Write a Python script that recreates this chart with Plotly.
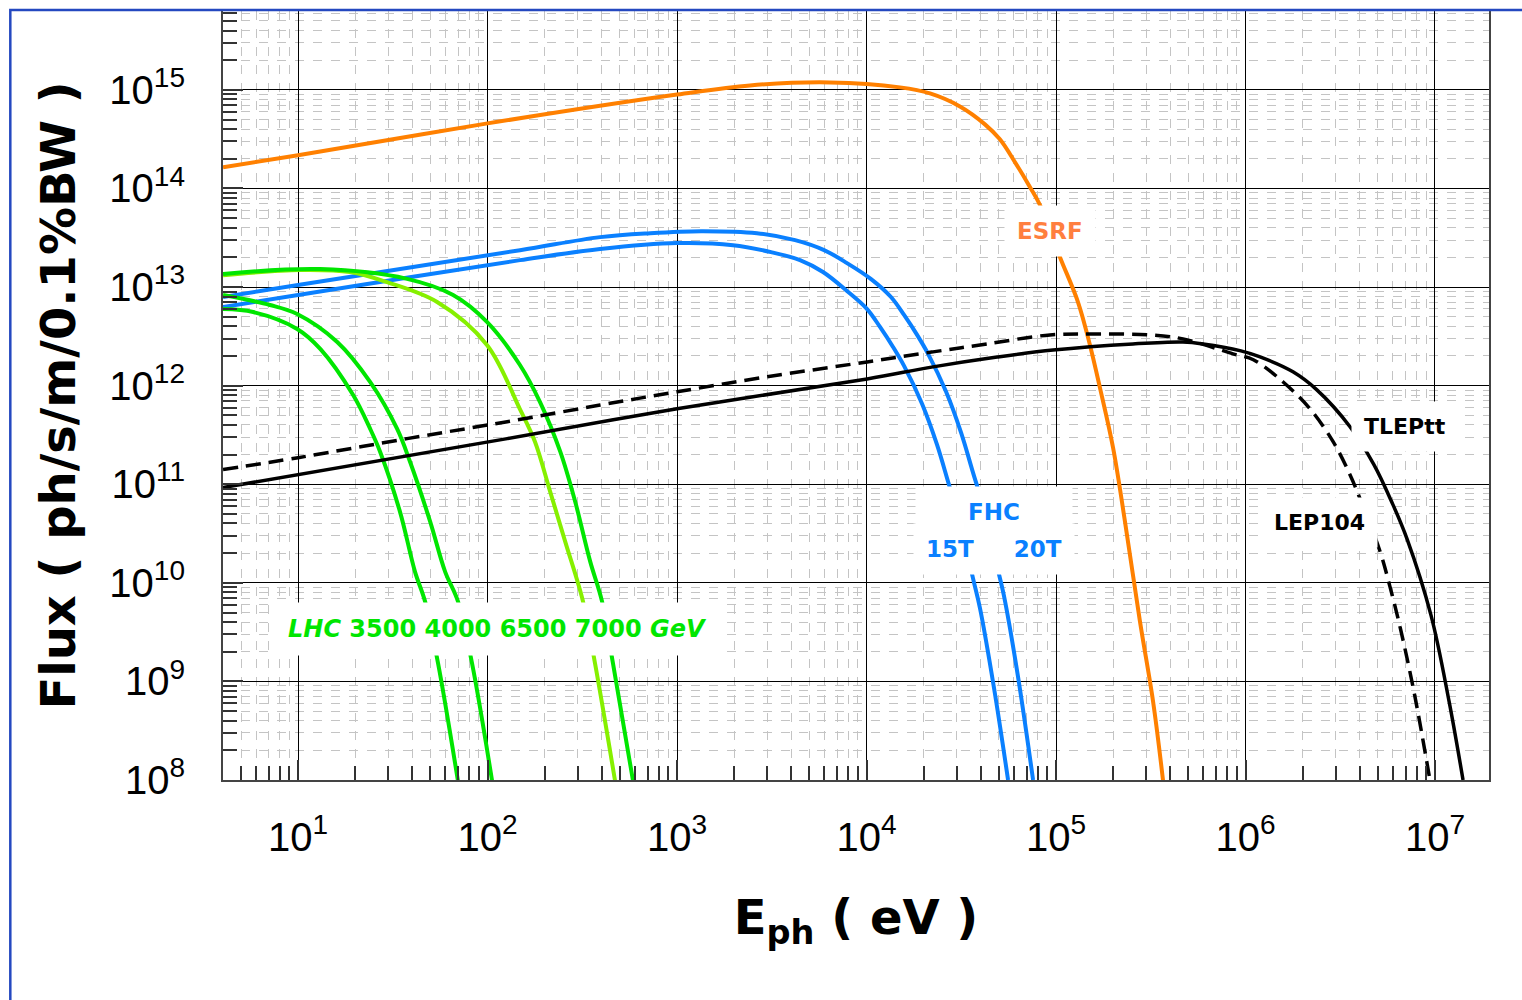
import plotly.graph_objects as go

# ---------------- data ----------------
esrf_x = [4.02, 10, 100, 1000, 2427, 6412, 15030, 21630, 31120, 42170, 50580, 60810, 72950,
          82410, 104960, 130600, 151000, 170600, 200000, 231200, 277300, 325100, 367300]
esrf_y = [1.64e14, 2.17e14, 4.57e14, 8.97e14, 1.11e15, 1.19e15, 1.06e15, 9.2e14, 6.79e14,
          4.47e14, 3.15e14, 1.84e14, 1.03e14, 6.76e13, 2.01e13, 7.05e12, 2.59e12, 9.5e11,
          2.35e11, 4.18e10, 4.06e9, 6.3e8, 9.8e7]

fhc15_x = [4.02, 10, 148.4, 392.6, 1000, 1975, 3133, 4457, 5893, 7888, 10070, 11780, 13800,
           15780, 19630, 23550, 27230, 31550, 36480, 39720, 47100, 55850]
fhc15_y = [6.28e12, 8.30e12, 1.876e13, 2.43e13, 2.79e13, 2.66e13, 2.26e13, 1.876e13, 1.42e13,
           9.12e12, 5.98e12, 3.94e12, 2.47e12, 1.585e12, 6.55e11, 2.52e11, 9.91e10, 3.90e10,
           1.11e10, 5.51e9, 8.53e8, 1.0e8]

fhc20_x = [4.02, 10, 148.4, 392.6, 721, 1339, 2642, 4198, 5970, 7888, 10570, 13460, 15780,
           18490, 21130, 26300, 31550, 36480, 42170, 48870, 53200, 62950, 75680]
fhc20_y = [7.93e12, 1.047e13, 2.366e13, 3.21e13, 3.52e13, 3.69e13, 3.52e13, 2.99e13, 2.37e13,
           1.75e13, 1.205e13, 7.93e12, 5.21e12, 3.27e12, 2.10e12, 8.65e11, 3.33e11, 1.31e11,
           5.16e10, 1.47e10, 7.28e9, 1.13e9, 1.0e8]

lhc3500_x = [4.02, 5.8, 9.89, 13.1, 19.5, 24.0, 27.1, 34.5, 41.4, 46.8, 54.8, 69.8]
lhc3500_y = [5.98e12, 5.58e12, 3.76e12, 2.36e12, 8.07e11, 3.66e11, 2.14e11, 5.28e10,
             1.30e10, 6.48e9, 1.53e9, 9.8e7]

lhc4000_x = [4.02, 7.11, 9.89, 16.1, 24.0, 33.3, 39.0, 49.8, 59.7, 69.8, 82.8, 105.7]
lhc4000_y = [8.30e12, 6.58e12, 5.33e12, 2.77e12, 1.09e12, 3.66e11, 1.69e11, 4.18e10,
             1.30e10, 6.48e9, 1.53e9, 9.8e7]

lhc6500_x = [4.02, 10.3, 18.8, 29.5, 54.2, 99.3, 148, 178, 214, 257, 319, 369, 471]
lhc6500_y = [1.32e13, 1.49e13, 1.42e13, 1.12e13, 7.05e12, 2.59e12, 5.82e11, 2.70e11,
             8.41e10, 2.62e10, 6.48e9, 1.53e9, 9.8e7]

lhc7000_x = [4.02, 13.1, 37.6, 65.8, 99.3, 148, 189, 242, 290, 348, 402, 459, 586]
lhc7000_y = [1.36e13, 1.52e13, 1.21e13, 8.30e12, 4.43e12, 1.63e12, 6.85e11, 2.14e11,
             6.67e10, 1.65e10, 6.48e9, 1.53e9, 9.8e7]

tlep_x = [4.02, 127, 1000, 10070, 22440, 48870, 96400, 254700, 467700, 597000, 946000,
          1.194e6, 1.78e6, 2.38e6, 3.56e6, 4.76e6, 5.93e6, 7.11e6, 9.53e6, 1.186e7, 1.406e7]
tlep_y = [9.25e10, 2.90e11, 5.82e11, 1.17e12, 1.55e12, 1.95e12, 2.30e12, 2.65e12, 2.77e12,
          2.65e12, 2.25e12, 1.955e12, 1.38e12, 9.06e11, 3.83e11, 1.58e11, 6.52e10, 2.81e10,
          4.68e9, 6.31e8, 1.0e8]

lep_x = [4.02, 10, 37.6, 127, 393, 1000, 2985, 10070, 22440, 43250, 92900, 170600, 313300,
         467700, 859000, 1.10e6, 1.58e6, 2.19e6, 2.90e6, 3.56e6, 4.02e6, 5.13e6, 5.78e6,
         6.53e6, 7.83e6, 9.42e6]
lep_y = [1.41e11, 1.86e11, 2.90e11, 4.31e11, 6.36e11, 8.65e11, 1.23e12, 1.74e12, 2.20e12,
         2.65e12, 3.27e12, 3.34e12, 3.27e12, 2.98e12, 2.10e12, 1.83e12, 1.09e12, 5.82e11,
         2.70e11, 1.25e11, 7.14e10, 2.08e10, 9.2e9, 3.62e9, 7.08e8, 9.8e7]

x_tickvals = [1e1, 1e2, 1e3, 1e4, 1e5, 1e6, 1e7]
x_ticktext = ["10<sup>1</sup>", "10<sup>2</sup>", "10<sup>3</sup>", "10<sup>4</sup>",
              "10<sup>5</sup>", "10<sup>6</sup>", "10<sup>7</sup>"]
y_tickvals = [1e8, 1e9, 1e10, 1e11, 1e12, 1e13, 1e14, 1e15]
y_ticktext = ["10<sup>8</sup>", "10<sup>9</sup>", "10<sup>10</sup>", "10<sup>11</sup>",
              "10<sup>12</sup>", "10<sup>13</sup>", "10<sup>14</sup>", "10<sup>15</sup>"]

x_range_log = [0.604, 7.285]
y_range_log = [8.0, 15.80]

# ---------------- figure ----------------
GREEN = "#00e600"
YGREEN = "#86f000"
BLUE = "#0a80ff"
ORANGE = "#ff8000"

fig = go.Figure()

def add_line(x, y, color, width=4, dash=None, name=""):
    fig.add_trace(go.Scatter(
        x=x, y=y, mode="lines", name=name, showlegend=False,
        line=dict(color=color, width=width, shape="spline", smoothing=1.0,
                  dash=dash if dash else "solid"),
        hoverinfo="skip"))

add_line(esrf_x, esrf_y, ORANGE, name="ESRF")
add_line(fhc15_x, fhc15_y, BLUE, name="FHC 15T")
add_line(fhc20_x, fhc20_y, BLUE, name="FHC 20T")
add_line(lhc3500_x, lhc3500_y, GREEN, name="LHC 3500")
add_line(lhc4000_x, lhc4000_y, GREEN, name="LHC 4000")
add_line(lhc6500_x, lhc6500_y, YGREEN, name="LHC 6500")
add_line(lhc7000_x, lhc7000_y, GREEN, name="LHC 7000")
add_line(lep_x, lep_y, "black", width=3.5, dash="15px,8px", name="LEP104")
add_line(tlep_x, tlep_y, "black", width=3.5, name="TLEPtt")

tickfont = dict(family="Liberation Sans, DejaVu Sans, sans-serif", size=40, color="black")
titlefont = dict(family="DejaVu Sans, sans-serif", size=48, color="black")
minor = dict(dtick="D1", showgrid=True, gridcolor="#c4c4c4", griddash="dash",
             gridwidth=1, ticks="inside", ticklen=14, tickcolor="#333", tickwidth=1.5)

fig.update_xaxes(
    type="log", range=x_range_log, tickvals=x_tickvals, ticktext=x_ticktext,
    showgrid=True, gridcolor="black", gridwidth=1,
    ticks="inside", ticklen=20, tickcolor="#333", tickwidth=1.5,
    showline=True, linecolor="#444", linewidth=2, mirror=True, zeroline=False,
    tickfont=tickfont, ticklabelstandoff=21, minor=minor,
    title=dict(text="<b>E<sub>ph</sub> ( eV )</b>", font=titlefont, standoff=42))

fig.update_yaxes(
    type="log", range=y_range_log, tickvals=y_tickvals, ticktext=y_ticktext,
    showgrid=True, gridcolor="black", gridwidth=1,
    ticks="inside", ticklen=20, tickcolor="#333", tickwidth=1.5,
    showline=True, linecolor="#444", linewidth=2, mirror=True, zeroline=False,
    tickfont=tickfont, ticklabelstandoff=28, minor=minor,
    title=dict(text="<b>Flux ( ph/s/m/0.1%BW )</b>", font=titlefont, standoff=19))

labfont = "DejaVu Sans, sans-serif"
NB = "\u00a0"
annots = [
    dict(x=4.968, y=13.567, text="<b>ESRF</b>", color="#ff7f3f", size=23, pad=12),
    dict(x=4.673, y=10.348, text="<b>15T" + NB * 5 + "20T</b>", color=BLUE, size=23, pad=12),
    dict(x=4.673, y=10.723, text="<b>" + NB * 5 + "FHC" + NB * 5 + "</b>", color=BLUE, size=23, pad=12),
    dict(x=2.050, y=9.528, text="<b><i>LHC</i> 3500 4000 6500 7000 <i>GeV</i></b>", color=GREEN, size=24, pad=12),
    dict(x=6.842, y=11.583, text="<b>TLEPtt</b>", color="black", size=22, pad=12),
    dict(x=6.388, y=10.611, text="<b>LEP104</b>", color="black", size=22, pad=12),
]
for a in annots:
    fig.add_annotation(x=a["x"], y=a["y"], xref="x", yref="y", text=a["text"],
                       showarrow=False, bgcolor="white", borderpad=a["pad"],
                       font=dict(family=labfont, size=a["size"], color=a["color"]))

# blue frame around the figure
fig.add_shape(type="rect", xref="paper", yref="paper",
              x0=-0.168, x1=1.05, y0=-0.35, y1=1.0013,
              line=dict(color="#2448c0", width=2.5), fillcolor="rgba(0,0,0,0)",
              layer="above")

fig.update_layout(
    width=1522, height=1000,
    margin=dict(l=223, r=33, t=9, b=220),
    paper_bgcolor="white", plot_bgcolor="white",
    showlegend=False,
)

fig.write_html("out.html")
